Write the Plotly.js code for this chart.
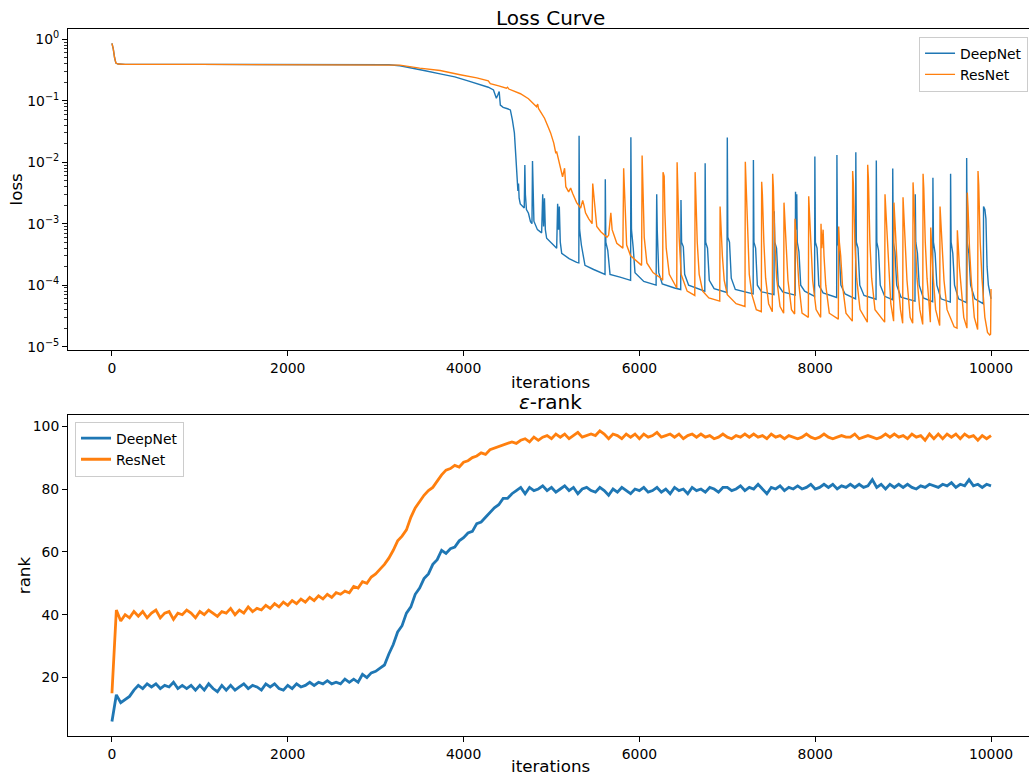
<!DOCTYPE html>
<html>
<head>
<meta charset="utf-8">
<script src="https://cdn.plot.ly/plotly-3.0.1.min.js"></script>
<style>
  html, body { margin: 0; padding: 0; overflow: hidden; background: #fff; }
  #chart { width: 1029px; height: 779px; }
</style>
</head>
<body>
<div id="chart"></div>
<script>
// ---------------- DATA ----------------
const seriesNames = ["DeepNet", "ResNet"];
const xTicks = [0, 2000, 4000, 6000, 8000, 10000];
const rankTicks = [20, 40, 60, 80, 100];
const lossTickVals = [1e-5, 1e-4, 1e-3, 1e-2, 1e-1, 1];
const lossTickText = ["10<sup>\u22125</sup>", "10<sup>\u22124</sup>", "10<sup>\u22123</sup>", "10<sup>\u22122</sup>", "10<sup>\u22121</sup>", "10<sup>0</sup>"];

// Loss curve, DeepNet: [iteration, loss]
const lossDeepPts = [
 [0,0.86],[15,0.7],[30,0.5],[45,0.41],[70,0.395],[150,0.39],[1000,0.39],[2000,0.39],[3000,0.388],[3150,0.385],
 [3276,0.37],[3400,0.345],[3550,0.31],[3733,0.273],[3900,0.245],[4050,0.21],[4200,0.18],[4281,0.166],[4340,0.15],
 [4373,0.11],[4390,0.125],[4405,0.141],[4418,0.085],[4450,0.078],[4500,0.074],[4532,0.071],[4555,0.049],[4578,0.03],
 [4595,0.012],[4601,0.0085],[4610,0.005],[4618,0.0034],[4625,0.0045],[4632,0.0026],[4645,0.0021],[4661,0.002],[4690,0.0018],
 [4697,0.009],[4703,0.003],[4715,0.0017],[4738,0.00148],[4761,0.00108],[4778,0.001],[4784,0.0105],[4790,0.0022],[4800,0.0011],
 [4840,0.0008],[4888,0.00071],[4900,0.003],[4910,0.0009],[4920,0.0026],[4930,0.0008],[4945,0.00058],[5000,0.00048],
 [5059,0.0004],[5070,0.0021],[5080,0.0008],[5089,0.0019],[5100,0.0005],[5116,0.00033],[5200,0.00027],[5287,0.000235],
 [5311,0.00023],[5314,0.027],[5320,0.0008],[5340,0.00045],[5381,0.00021],[5480,0.00018],[5590,0.000152],[5609,0.00015],
 [5612,0.0053],[5618,0.0005],[5640,0.00037],[5666,0.00015],[5780,0.000135],[5893,0.00012],[5900,0.00012],[5903,0.0255],
 [5910,0.0008],[5930,0.0004],[5950,0.00016],[6050,0.000115],[6190,0.0001],[6197,0.003],[6203,0.0008],[6220,0.00016],
 [6260,0.000105],[6400,0.00009],[6470,0.000085],[6473,0.00244],[6480,0.0005],[6500,0.00042],[6515,0.00015],[6560,0.0001],
 [6744,0.00008],[6748,0.0096],[6754,0.0005],[6775,0.0004],[6795,0.00012],[6850,0.000088],[6996,0.000076],[7000,0.0253],
 [7006,0.0006],[7025,0.0005],[7045,0.00013],[7091,0.000085],[7294,0.000072],[7297,0.0109],[7303,0.0005],[7322,0.0004],
 [7342,0.0001],[7390,0.000078],[7531,0.00007],[7534,0.0016],[7540,0.0005],[7560,0.0004],[7580,0.0001],[7630,0.000078],
 [7772,0.000069],[7776,0.0033],[7782,0.0008],[7790,0.003],[7796,0.0005],[7815,0.00035],[7835,0.0001],[7880,0.00008],
 [7993,0.000066],[7996,0.0124],[8002,0.0005],[8021,0.0004],[8041,0.0001],[8090,0.000075],[8244,0.000063],[8247,0.0131],
 [8253,0.0005],[8272,0.0004],[8292,0.0001],[8340,0.000072],[8459,0.00006],[8462,0.0145],[8468,0.0005],[8487,0.0004],
 [8507,0.0001],[8555,0.000068],[8692,0.000059],[8695,0.0107],[8701,0.0005],[8720,0.00037],[8740,0.0001],[8790,0.000066],
 [8879,0.000058],[8882,0.0079],[8888,0.0005],[8907,0.00035],[8927,0.0001],[8975,0.000064],[9135,0.000055],[9138,0.003],
 [9144,0.0005],[9163,0.00033],[9183,0.0001],[9230,0.000062],[9336,0.000054],[9339,0.0056],[9345,0.0005],[9364,0.00033],
 [9384,0.0001],[9430,0.00006],[9537,0.000053],[9540,0.0065],[9546,0.0005],[9565,0.00033],[9585,0.0001],[9630,0.00006],
 [9720,0.000052],[9723,0.0117],[9729,0.0005],[9748,0.00033],[9768,0.0001],[9815,0.00006],[9912,0.00005],[9915,0.0019],
 [9930,0.0017],[9942,0.0012],[9955,0.0002],[9970,0.0001],[10000,0.00006]
];

// Loss curve, ResNet: [iteration, loss]
const lossResPts = [
 [0,0.86],[15,0.7],[30,0.5],[45,0.41],[70,0.395],[150,0.39],[1000,0.39],[2000,0.39],[3000,0.39],[3276,0.38],
 [3500,0.34],[3733,0.31],[3961,0.265],[4150,0.235],[4281,0.21],[4304,0.19],[4400,0.175],[4487,0.16],[4500,0.166],[4515,0.155],
 [4647,0.13],[4738,0.108],[4830,0.08],[4843,0.088],[4852,0.075],[4921,0.052],[4967,0.036],[4990,0.03],[5026,0.0205],
 [5049,0.014],[5058,0.015],[5072,0.0124],[5104,0.0075],[5126,0.0058],[5149,0.008],[5163,0.004],[5195,0.0033],[5218,0.0038],
 [5241,0.0031],[5286,0.0022],[5332,0.0018],[5355,0.0024],[5369,0.002],[5387,0.0015],[5424,0.0012],[5462,0.001],[5469,0.0045],
 [5477,0.0035],[5490,0.0019],[5515,0.0009],[5561,0.00074],[5630,0.0006],[5650,0.00065],[5675,0.0015],[5690,0.0008],
 [5743,0.00048],[5812,0.0004],[5821,0.008],[5829,0.004],[5840,0.0012],[5855,0.00045],[5900,0.0003],[6000,0.00022],
 [6025,0.00021],[6031,0.0129],[6039,0.004],[6055,0.0006],[6085,0.00023],[6155,0.00016],[6245,0.00013],[6265,0.00012],
 [6269,0.0069],[6282,0.0059],[6290,0.0015],[6305,0.0004],[6340,0.00015],[6420,0.000095],[6425,0.00009],[6429,0.01],
 [6437,0.004],[6452,0.0006],[6475,0.00015],[6543,0.00008],[6630,0.000068],[6634,0.0069],[6642,0.003],[6658,0.0005],
 [6680,0.00015],[6720,0.00008],[6790,0.000062],[6914,0.000055],[6918,0.0019],[6926,0.001],[6944,0.0003],[6965,0.00012],
 [7000,0.00007],[7100,0.00005],[7201,0.000045],[7205,0.0102],[7213,0.005],[7230,0.0006],[7250,0.00015],[7280,0.00007],
 [7330,0.00004],[7387,0.000037],[7391,0.0048],[7399,0.003],[7416,0.0005],[7436,0.00013],[7470,0.00005],[7512,0.000037],
 [7516,0.0065],[7524,0.004],[7541,0.0005],[7561,0.00013],[7600,0.000045],[7641,0.000035],[7645,0.0022],[7653,0.0013],
 [7670,0.0004],[7690,0.00012],[7730,0.00004],[7766,0.000034],[7770,0.0012],[7778,0.0008],[7795,0.0003],[7815,0.0001],
 [7850,0.000035],[7922,0.00003],[7926,0.0028],[7934,0.0017],[7951,0.0004],[7971,0.00012],[8010,0.00004],[8062,0.00003],
 [8066,0.001],[8075,0.0004],[8090,0.0008],[8100,0.0003],[8120,0.0001],[8160,0.000035],[8263,0.000028],[8267,0.0009],
 [8275,0.0005],[8290,0.0003],[8310,0.0001],[8350,0.000035],[8422,0.000026],[8426,0.0072],[8434,0.0045],[8451,0.0005],
 [8471,0.00013],[8510,0.00004],[8593,0.000025],[8597,0.0091],[8605,0.0055],[8622,0.0005],[8642,0.00013],[8680,0.00004],
 [8790,0.000025],[8794,0.003],[8802,0.0018],[8819,0.0004],[8839,0.00012],[8860,0.00005],[8892,0.000026],[8896,0.0022],
 [8904,0.0013],[8921,0.0004],[8941,0.00012],[8970,0.00004],[8995,0.000024],[8999,0.0027],[9007,0.0016],[9024,0.0004],
 [9044,0.00012],[9080,0.00003],[9109,0.000024],[9113,0.0047],[9121,0.0028],[9138,0.0005],[9158,0.00013],[9190,0.00004],
 [9223,0.000023],[9227,0.0065],[9235,0.0038],[9252,0.0005],[9272,0.00013],[9295,0.00005],[9310,0.000025],[9314,0.00087],
 [9322,0.0005],[9340,0.00015],[9370,0.00004],[9416,0.000022],[9420,0.0019],[9428,0.0011],[9445,0.0004],[9465,0.00012],
 [9500,0.00004],[9580,0.000021],[9613,0.00002],[9617,0.00078],[9625,0.0005],[9640,0.0002],[9660,0.00008],[9690,0.00003],
 [9726,0.00002],[9730,0.0032],[9738,0.0019],[9755,0.0004],[9775,0.00012],[9810,0.00003],[9848,0.000019],[9852,0.0072],
 [9860,0.0043],[9877,0.0005],[9897,0.00013],[9930,0.00003],[9960,0.000017],[9985,0.0000155],[9995,0.000016],[10000,0.000087]
];

// eps-rank, one value every rankStep iterations (0..10000)
const rankStep = 50;
const rankDeep = [
 6,14.5,12,13,14,16,17.5,16.5,18,17,
 18,16.5,17.5,17,18.5,16.5,17.5,16.5,17.5,16,
 17.5,16,18,16.5,15.5,17.5,16,17.5,16,17,
 18,16.5,17.5,17,16,18,17,18,16.5,16,
 17.5,16.5,18,17,17.5,18.5,17.5,18.5,18,19,
 18,18.5,18,19.5,18.5,19.5,18.5,21,20,21.5,
 22,23,24,27.5,30.5,34.5,36.5,40.5,42.5,46.5,
 48.5,51.5,53,56,57.5,60.5,59.5,61,61.5,63.5,
 64.5,66,66.5,69,69.5,71,72.5,74,75,77,
 77,78.5,79.5,80.5,78.5,80.5,79.5,80,81,79.5,
 80.5,79,80,81,79.5,80.5,78.5,80,80.5,79.5,
 79,80.5,79.5,78,80,79,80.5,79.5,78.5,80,
 79.5,80.5,79,79.5,80.5,79,80,78.5,80.5,79.5,
 80,78.5,80.5,79.5,80,79,80.5,80,79,80.5,
 80.5,79.5,80,81,79.5,80.5,80,81.5,80,78.5,
 80.5,80,81,79.5,80.5,80,81,80,80.5,81.5,
 80,80.5,81.5,80.5,81.5,80,81,80.5,81.5,80.5,
 81.5,80.5,81,83,80.5,81.5,80,81.5,80.5,81.5,
 80.5,81.5,80.5,80,81,80.5,81.5,81,80.5,81.5,
 81,82,80.5,81.5,81,83,81,81.5,80.5,81.5,
 81
];
const rankRes = [
 15,41.5,38,40,39,41,39.5,41,39,40.5,
 41.5,39,40.5,41,38.5,40.5,40,41.5,40.5,39,
 41,40,41.5,40.5,39.5,41,40.5,42,40,41.5,
 40.5,42.5,41,42,41.5,43,42,43.5,42.5,44,
 43,44.5,43.5,45,44,45.5,44.5,46,45,46.5,
 45.5,47,46.5,47.5,47,49,48.5,50.5,50,52,
 53,54.5,56,58,60.5,63.5,65,67,71,74,
 76,78,79.5,80.5,82.5,84.5,86,86.5,87.5,87,
 88.5,89,90,90.5,91.5,91,92.5,93,93.5,94,
 94.5,95,94.5,95.5,96,95,96.5,95.5,96.5,97,
 96,97.5,96.5,97.5,96,97,98,96.5,97,97.5,
 97,98.5,97.5,96,97.5,97,96,97.5,96.5,97.5,
 96,97.5,96.5,97,98,96.5,97,97.5,96.5,97.5,
 96,97,97.5,96.5,97.5,96.5,97,96,96.5,97.5,
 96.5,96,97,96.5,97.5,96.5,97.5,96.5,97,96,
 97.5,96.5,97,96,97,96.5,96,96.5,97.5,96.5,
 96,96.5,97.5,96.5,96,96.5,97,96.5,96.5,97.5,
 96,96.5,97,96.5,96,96.5,97.5,96.5,97.5,96.5,
 97,96,97.5,96.5,97,95.5,97.5,96,97.5,96,
 97.5,96.5,97.5,96,97.5,96.5,97,95.5,97,96,
 97
];

// ---------------- STYLE ----------------
const C_BLUE = "#1f77b4", C_ORANGE = "#ff7f0e";
const FONT = "DejaVu Sans, Liberation Sans, sans-serif";
const TICK = 13.9, LABEL = 16.7, TITLE = 20;

const rankIters = rankDeep.map((_, i) => i * rankStep);

const traces = [
  { x: lossDeepPts.map(p => p[0]), y: lossDeepPts.map(p => p[1]), name: seriesNames[0], type: "scatter", mode: "lines",
    line: { color: C_BLUE, width: 1.4 }, xaxis: "x", yaxis: "y", legend: "legend" },
  { x: lossResPts.map(p => p[0]), y: lossResPts.map(p => p[1]), name: seriesNames[1], type: "scatter", mode: "lines",
    line: { color: C_ORANGE, width: 1.4 }, xaxis: "x", yaxis: "y", legend: "legend" },
  { x: rankIters, y: rankDeep, name: seriesNames[0], type: "scatter", mode: "lines",
    line: { color: C_BLUE, width: 2.8 }, xaxis: "x2", yaxis: "y2", legend: "legend2" },
  { x: rankIters, y: rankRes, name: seriesNames[1], type: "scatter", mode: "lines",
    line: { color: C_ORANGE, width: 2.8 }, xaxis: "x2", yaxis: "y2", legend: "legend2" }
];

const minorLog = [];
[1e-5, 1e-4, 1e-3, 1e-2, 1e-1, 1].forEach(d => { for (let k = 2; k <= 9; k++) minorLog.push(d * k); });

const axisCommon = {
  showline: true, linecolor: "#000", linewidth: 1, ticks: "outside", ticklen: 5, tickwidth: 1,
  tickcolor: "#000", showgrid: false, zeroline: false, tickfont: { family: FONT, size: TICK, color: "#000" }
};
const xCommon = Object.assign({}, axisCommon, { range: [-500, 10432], tickmode: "array", tickvals: xTicks, tickformat: "d", mirror: true });

const legendCommon = {
  bordercolor: "#cccccc", borderwidth: 1, bgcolor: "rgba(255,255,255,0.8)",
  font: { family: FONT, size: TICK, color: "#000" }, tracegroupgap: 0, itemwidth: 30
};

const layout = {
  width: 1029, height: 779,
  margin: { l: 68, r: 0, t: 29, b: 43 },
  paper_bgcolor: "#fff", plot_bgcolor: "#fff",
  font: { family: FONT, color: "#000" },
  showlegend: true,
  xaxis: Object.assign({}, xCommon, { anchor: "y", domain: [0, 1] }),
  yaxis: Object.assign({}, axisCommon, {
    anchor: "x", domain: [0.546, 1], type: "log", range: [-5.054, 0.167],
    tickmode: "array", tickvals: lossTickVals, ticktext: lossTickText,
    minor: { tickmode: "array", tickvals: minorLog, ticks: "outside", ticklen: 3, tickwidth: 0.8, tickcolor: "#000" }
  }),
  xaxis2: Object.assign({}, xCommon, { anchor: "y2", domain: [0, 1] }),
  yaxis2: Object.assign({}, axisCommon, {
    anchor: "x2", domain: [0, 0.4547], range: [1.4, 103.7], tickmode: "array", tickvals: rankTicks
  }),
  legend: Object.assign({}, legendCommon, { x: 0.999, y: 0.989, xanchor: "right", yanchor: "top" }),
  legend2: Object.assign({}, legendCommon, { x: 0.0073, y: 0.4446, xanchor: "left", yanchor: "top" }),
  annotations: [
    { text: "Loss Curve", xref: "paper", yref: "paper", x: 0.5026, y: 1.0156, xanchor: "center", yanchor: "middle",
      showarrow: false, font: { family: FONT, size: TITLE, color: "#000" } },
    { text: "<i>\u03b5</i>-rank", xref: "paper", yref: "paper", x: 0.5026, y: 0.4724, xanchor: "center", yanchor: "middle",
      showarrow: false, font: { family: FONT, size: TITLE, color: "#000" } },
    { text: "iterations", xref: "paper", yref: "paper", x: 0.5026, y: 0.5011, xanchor: "center", yanchor: "middle",
      showarrow: false, font: { family: FONT, size: LABEL, color: "#000" } },
    { text: "iterations", xref: "paper", yref: "paper", x: 0.5026, y: -0.042, xanchor: "center", yanchor: "middle",
      showarrow: false, font: { family: FONT, size: LABEL, color: "#000" } },
    { text: "loss", xref: "paper", yref: "paper", x: -0.0531, y: 0.773, xanchor: "center", yanchor: "middle", textangle: -90,
      showarrow: false, font: { family: FONT, size: LABEL, color: "#000" } },
    { text: "rank", xref: "paper", yref: "paper", x: -0.0458, y: 0.2274, xanchor: "center", yanchor: "middle", textangle: -90,
      showarrow: false, font: { family: FONT, size: LABEL, color: "#000" } }
  ]
};

Plotly.newPlot("chart", traces, layout, { displayModeBar: false, staticPlot: true });
</script>
</body>
</html>
